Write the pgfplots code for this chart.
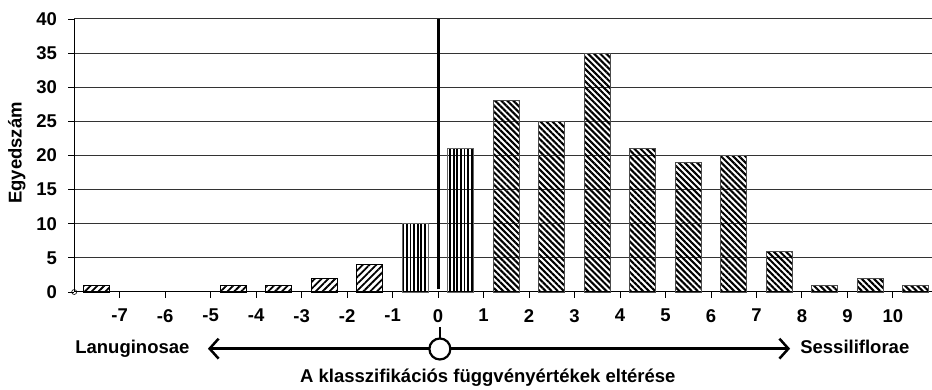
\documentclass[border=0pt]{standalone}
\usepackage{fontspec}
\setmainfont{Liberation Sans}
\usepackage{pgfplots}
\pgfplotsset{compat=1.18}
\usetikzlibrary{patterns.meta,arrows.meta}

\begin{document}
\begin{tikzpicture}[font=\bfseries]
\begin{axis}[
  scale only axis, width=857.8pt, height=273pt,
  at={(0,0)}, anchor=south west,
  xmin=-8, xmax=10.86, ymin=0, ymax=40,
  clip=false,
  axis x line=bottom, axis y line=left,
  axis line style={-, black, line width=1pt},
  xtick={-7,-6,-5,-4,-3,-2,-1,0,1,2,3,4,5,6,7,8,9,10},
  xticklabels={-7,-6,-5,-4,-3,-2,-1,0,1,2,3,4,5,6,7,8,9,10},
  ytick={0,5,10,15,20,25,30,35,40},
  yticklabels={0,5,10,15,20,25,30,35,40},
  tick align=outside, major tick length=6pt,
  tick style={black, line width=0.9pt},
  ticklabel style={font=\bfseries\fontsize{18.5}{20}\selectfont},
  yticklabel style={anchor=east, inner sep=0pt, xshift=-11pt},
  xticklabel style={anchor=north, inner sep=0pt, yshift=-11pt},
  ymajorgrids, major grid style={black!80, line width=1pt},
]
\addplot[ybar, bar width=26pt, bar shift=0pt, draw=black, line width=0.9pt,
  pattern={Lines[angle=45,distance=4.8pt,line width=1.8pt]}]
  coordinates {(-7.5,1) (-4.5,1) (-3.5,1) (-2.5,2) (-1.5,4)};
\addplot[ybar, bar width=26pt, bar shift=0pt, draw=black!60, line width=0.9pt,
  pattern={Lines[angle=90,distance=3.6pt,line width=1.8pt]}]
  coordinates {(-0.5,10) (0.5,21)};
\addplot[ybar, bar width=26pt, bar shift=0pt, draw=black!70, line width=0.9pt,
  pattern={Lines[angle=-45,distance=4.3pt,line width=2.1pt]}]
  coordinates {(1.5,28) (2.5,25) (3.5,35) (4.5,21) (5.5,19) (6.5,20) (7.5,6) (8.5,1) (9.5,2) (10.5,1)};
\addplot[black, line width=3pt, no marks] coordinates {(0,0.4) (0,40)};

\draw[line width=2.4pt] (axis cs:0.04,-5.1) -- (axis cs:0.04,-7.2);
\draw[line width=2.5pt, {Straight Barb[length=9pt,width=20pt]}-{Straight Barb[length=9pt,width=20pt]}]
  (axis cs:-5.06,-8.3) -- (axis cs:7.74,-8.3);
\node[circle, draw, line width=2.2pt, fill=white, minimum size=21pt, inner sep=0pt] at (axis cs:0.04,-8.35) {};
\node[anchor=base west, inner sep=0pt, font=\bfseries\fontsize{18.5}{20}\selectfont] at (axis cs:-7.98,-9.0) {Lanuginosae};
\node[anchor=base west, inner sep=0pt, font=\bfseries\fontsize{18.5}{20}\selectfont] at (axis cs:7.96,-9.0) {Sessiliflorae};
\node[anchor=base west, inner sep=0pt, font=\bfseries\fontsize{18.5}{20}\selectfont] at (axis cs:-3.035,-13.33) {A klasszifikációs függvényértékek eltérése};
\node[rotate=90, inner sep=0pt, font=\bfseries\fontsize{18.5}{20}\selectfont] at (axis cs:-9.26,20.37) {Egyedszám};
\node[circle, draw, line width=0.6pt, minimum size=5pt, inner sep=0pt] at (axis cs:-8,0) {};
\end{axis}
\pgfresetboundingbox
\useasboundingbox (-74.2pt,-98pt) rectangle (857.8pt,292pt);
\end{tikzpicture}
\end{document}
